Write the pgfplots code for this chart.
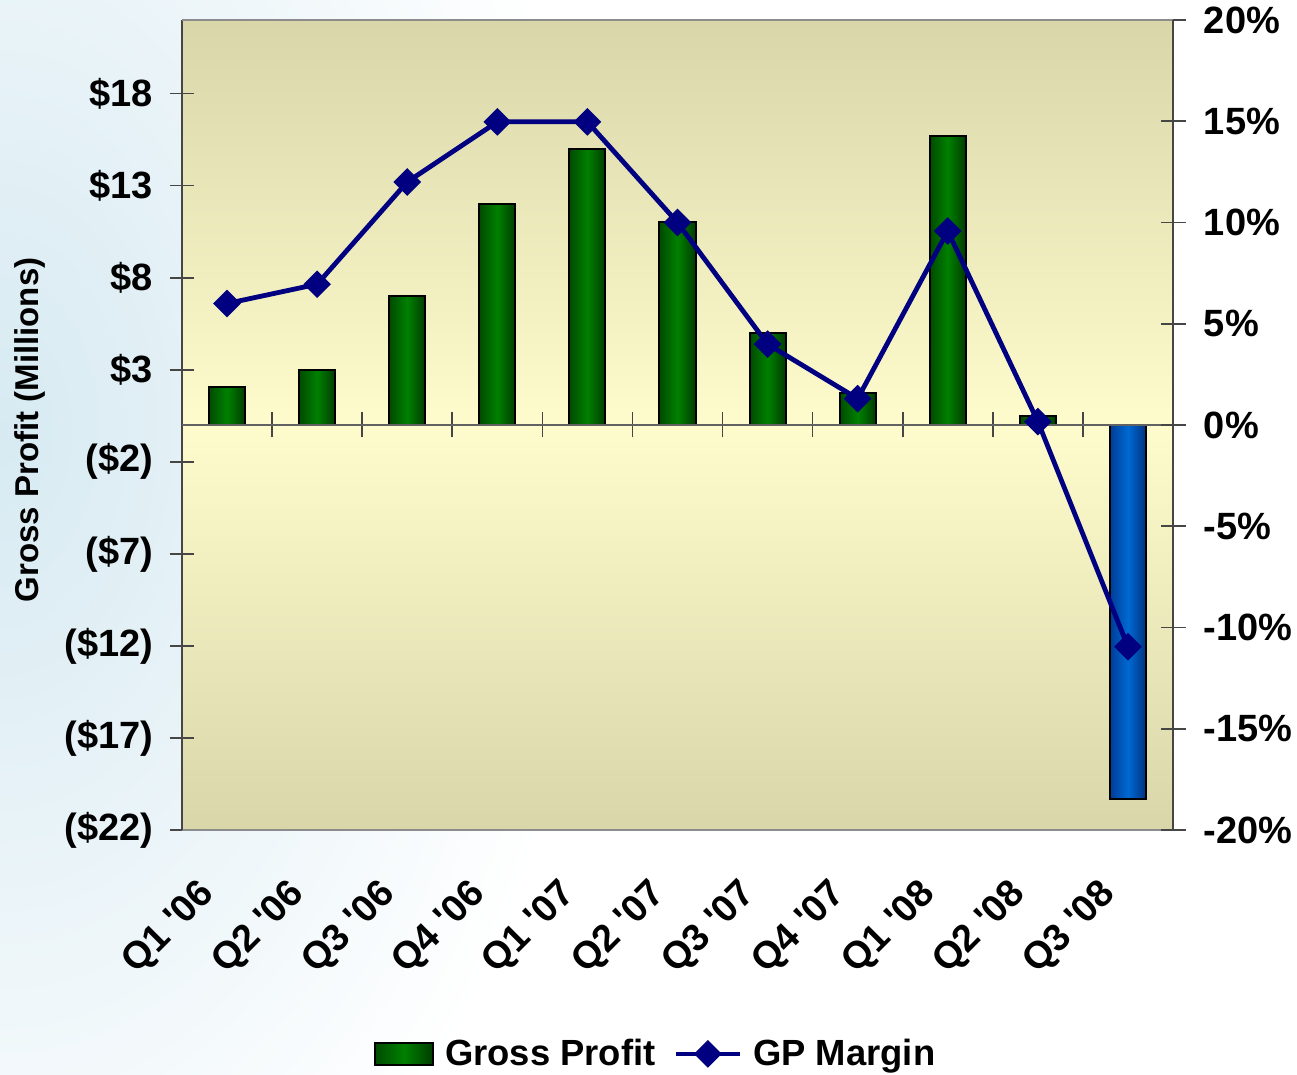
\documentclass[border=0pt]{standalone}
\usepackage{fontspec}
\setmainfont{Liberation Sans}
\usepackage{pgfplots}
\pgfplotsset{compat=1.18}

\definecolor{gmid}{RGB}{0,128,0}
\definecolor{gleft}{RGB}{0,75,0}
\definecolor{gright}{RGB}{0,60,0}
\definecolor{bmid}{RGB}{0,105,210}
\definecolor{bleft}{RGB}{0,60,150}
\definecolor{bright}{RGB}{0,50,130}
\definecolor{navy}{RGB}{0,0,128}
\definecolor{khaki}{RGB}{217,214,170}
\definecolor{cream}{RGB}{254,252,204}
\definecolor{frame}{RGB}{70,70,70}
\definecolor{edge}{RGB}{140,140,140}
\definecolor{leftbg}{RGB}{215,234,242}

\newcommand{\tickfont}{\fontsize{19}{21}\selectfont\bfseries}
% straight apostrophe, bypassing the tex-text mapping
\newcommand{\sq}{\XeTeXglyph\XeTeXcharglyph"0027\relax}

\pgfplotsset{
  barleg/.style={legend image code/.code={\draw[##1] (0pt,-5.5pt) rectangle (29pt,5.5pt);}},
  lineleg/.style={legend image code/.code={%
    \draw[##1, mark=none] (0pt,0pt) -- (32pt,0pt);
    \path[##1] plot coordinates {(16pt,0pt)};}},
  gbar/.style={draw=black, line width=1pt, bar shift=0pt,
    left color=gleft, right color=gright, middle color=gmid},
  bbar/.style={draw=black, line width=1pt, bar shift=0pt,
    left color=bleft, right color=bright, middle color=bmid},
  gpline/.style={navy, line width=2.4pt, mark=square*, mark size=4.4pt,
    mark options={rotate=45, solid, fill=navy, line width=1pt}},
  base/.style={
    scale only axis, width=495.5pt, height=405pt,
    at={(0pt,0pt)}, anchor=south west,
    xmin=-0.5, xmax=10.5,
    tick align=center, major tick length=12.5pt,
    /pgf/number format/assume math mode=true,
    ticklabel style={font=\tickfont},
  },
}

\begin{document}
\begin{tikzpicture}
% pale slide backdrop on the left
\shade[inner color=leftbg, outer color=white] (-91pt,200pt) ellipse (300pt and 470pt);

% bars, left axis
\begin{axis}[base,
  ymin=-22, ymax=22,
  axis y line*=left, axis x line*=bottom,
  x axis line style={-, draw=edge, line width=0.8pt},
  y axis line style={-, draw=frame, line width=1pt},
  ybar, bar width=18pt,
  xtick={0,...,10},
  xticklabels={Q1 \sq06,Q2 \sq06,Q3 \sq06,Q4 \sq06,Q1 \sq07,Q2 \sq07,Q3 \sq07,Q4 \sq07,Q1 \sq08,Q2 \sq08,Q3 \sq08},
  x tick style={draw=none},
  xticklabel style={xshift=-15pt, yshift=-10.5pt, rotate=45, anchor=north east, inner sep=0pt},
  ytick={-22,-17,...,18},
  yticklabels={(\$22),(\$17),(\$12),(\$7),(\$2),\$3,\$8,\$13,\$18},
  y tick style={draw=frame, line width=0.8pt},
  yticklabel style={inner sep=0pt, xshift=-8pt},
  ylabel={Gross Profit (Millions)},
  ylabel style={at={(axis description cs:-0.153,0.494)}, anchor=center,
    font=\fontsize{16.5}{18}\selectfont\bfseries},
  axis background/.style={top color=khaki, bottom color=khaki, middle color=cream},
  legend style={at={(axis description cs:0.479,-0.2765)}, anchor=center,
    draw=none, fill=none, font=\fontsize{18.2}{20}\selectfont\bfseries,
    legend columns=-1,
    /tikz/every odd column/.append style={column sep=3.5pt},
    /tikz/every even column/.append style={column sep=7pt}},
  legend cell align=left,
]
\addplot[gbar, barleg] coordinates {(0,2.05)};
\addlegendentry{Gross Profit}
\addplot[gbar, forget plot] coordinates {(1,3.0)};
\addplot[gbar, forget plot] coordinates {(2,7.0)};
\addplot[gbar, forget plot] coordinates {(3,12.0)};
\addplot[gbar, forget plot] coordinates {(4,15.0)};
\addplot[gbar, forget plot] coordinates {(5,11.0)};
\addplot[gbar, forget plot] coordinates {(6,5.0)};
\addplot[gbar, forget plot] coordinates {(7,1.73)};
\addplot[gbar, forget plot] coordinates {(8,15.7)};
\addplot[gbar, forget plot] coordinates {(9,0.5)};
\addplot[bbar, forget plot] coordinates {(10,-20.3)};
\addlegendimage{gpline, lineleg}
\addlegendentry{GP Margin}
\end{axis}

% zero line with category ticks
\begin{axis}[base,
  ymin=-22, ymax=22,
  axis x line=middle, axis y line=none,
  x axis line style={-, draw=edge!70!black, line width=0.8pt},
  xtick={0.5,1.5,...,9.5}, xticklabels={},
  xtick align=center,
  x tick style={draw=frame, line width=0.8pt},
]
\addplot[draw=none, mark=none, forget plot] coordinates {(0,0)};
\end{axis}

% margin line, right axis
\begin{axis}[base,
  ymin=-20, ymax=20,
  axis y line*=right, axis x line*=top,
  x axis line style={-, draw=edge, line width=0.8pt},
  y axis line style={-, draw=frame, line width=1pt},
  xtick=\empty,
  ytick={-20,-15,...,20},
  yticklabels={-20\%,-15\%,-10\%,-5\%,0\%,5\%,10\%,15\%,20\%},
  y tick style={draw=frame, line width=0.8pt},
  yticklabel style={inner sep=0pt, xshift=9pt},
]
\addplot[gpline]
  coordinates {(0,6.0) (1,6.95) (2,12.0) (3,14.97) (4,14.97) (5,10.0)
               (6,3.99) (7,1.3) (8,9.58) (9,0.17) (10,-10.95)};
\end{axis}

\pgfresetboundingbox
\path (-91pt,-122.5pt) rectangle (557.5pt,415pt);
\end{tikzpicture}
\end{document}
